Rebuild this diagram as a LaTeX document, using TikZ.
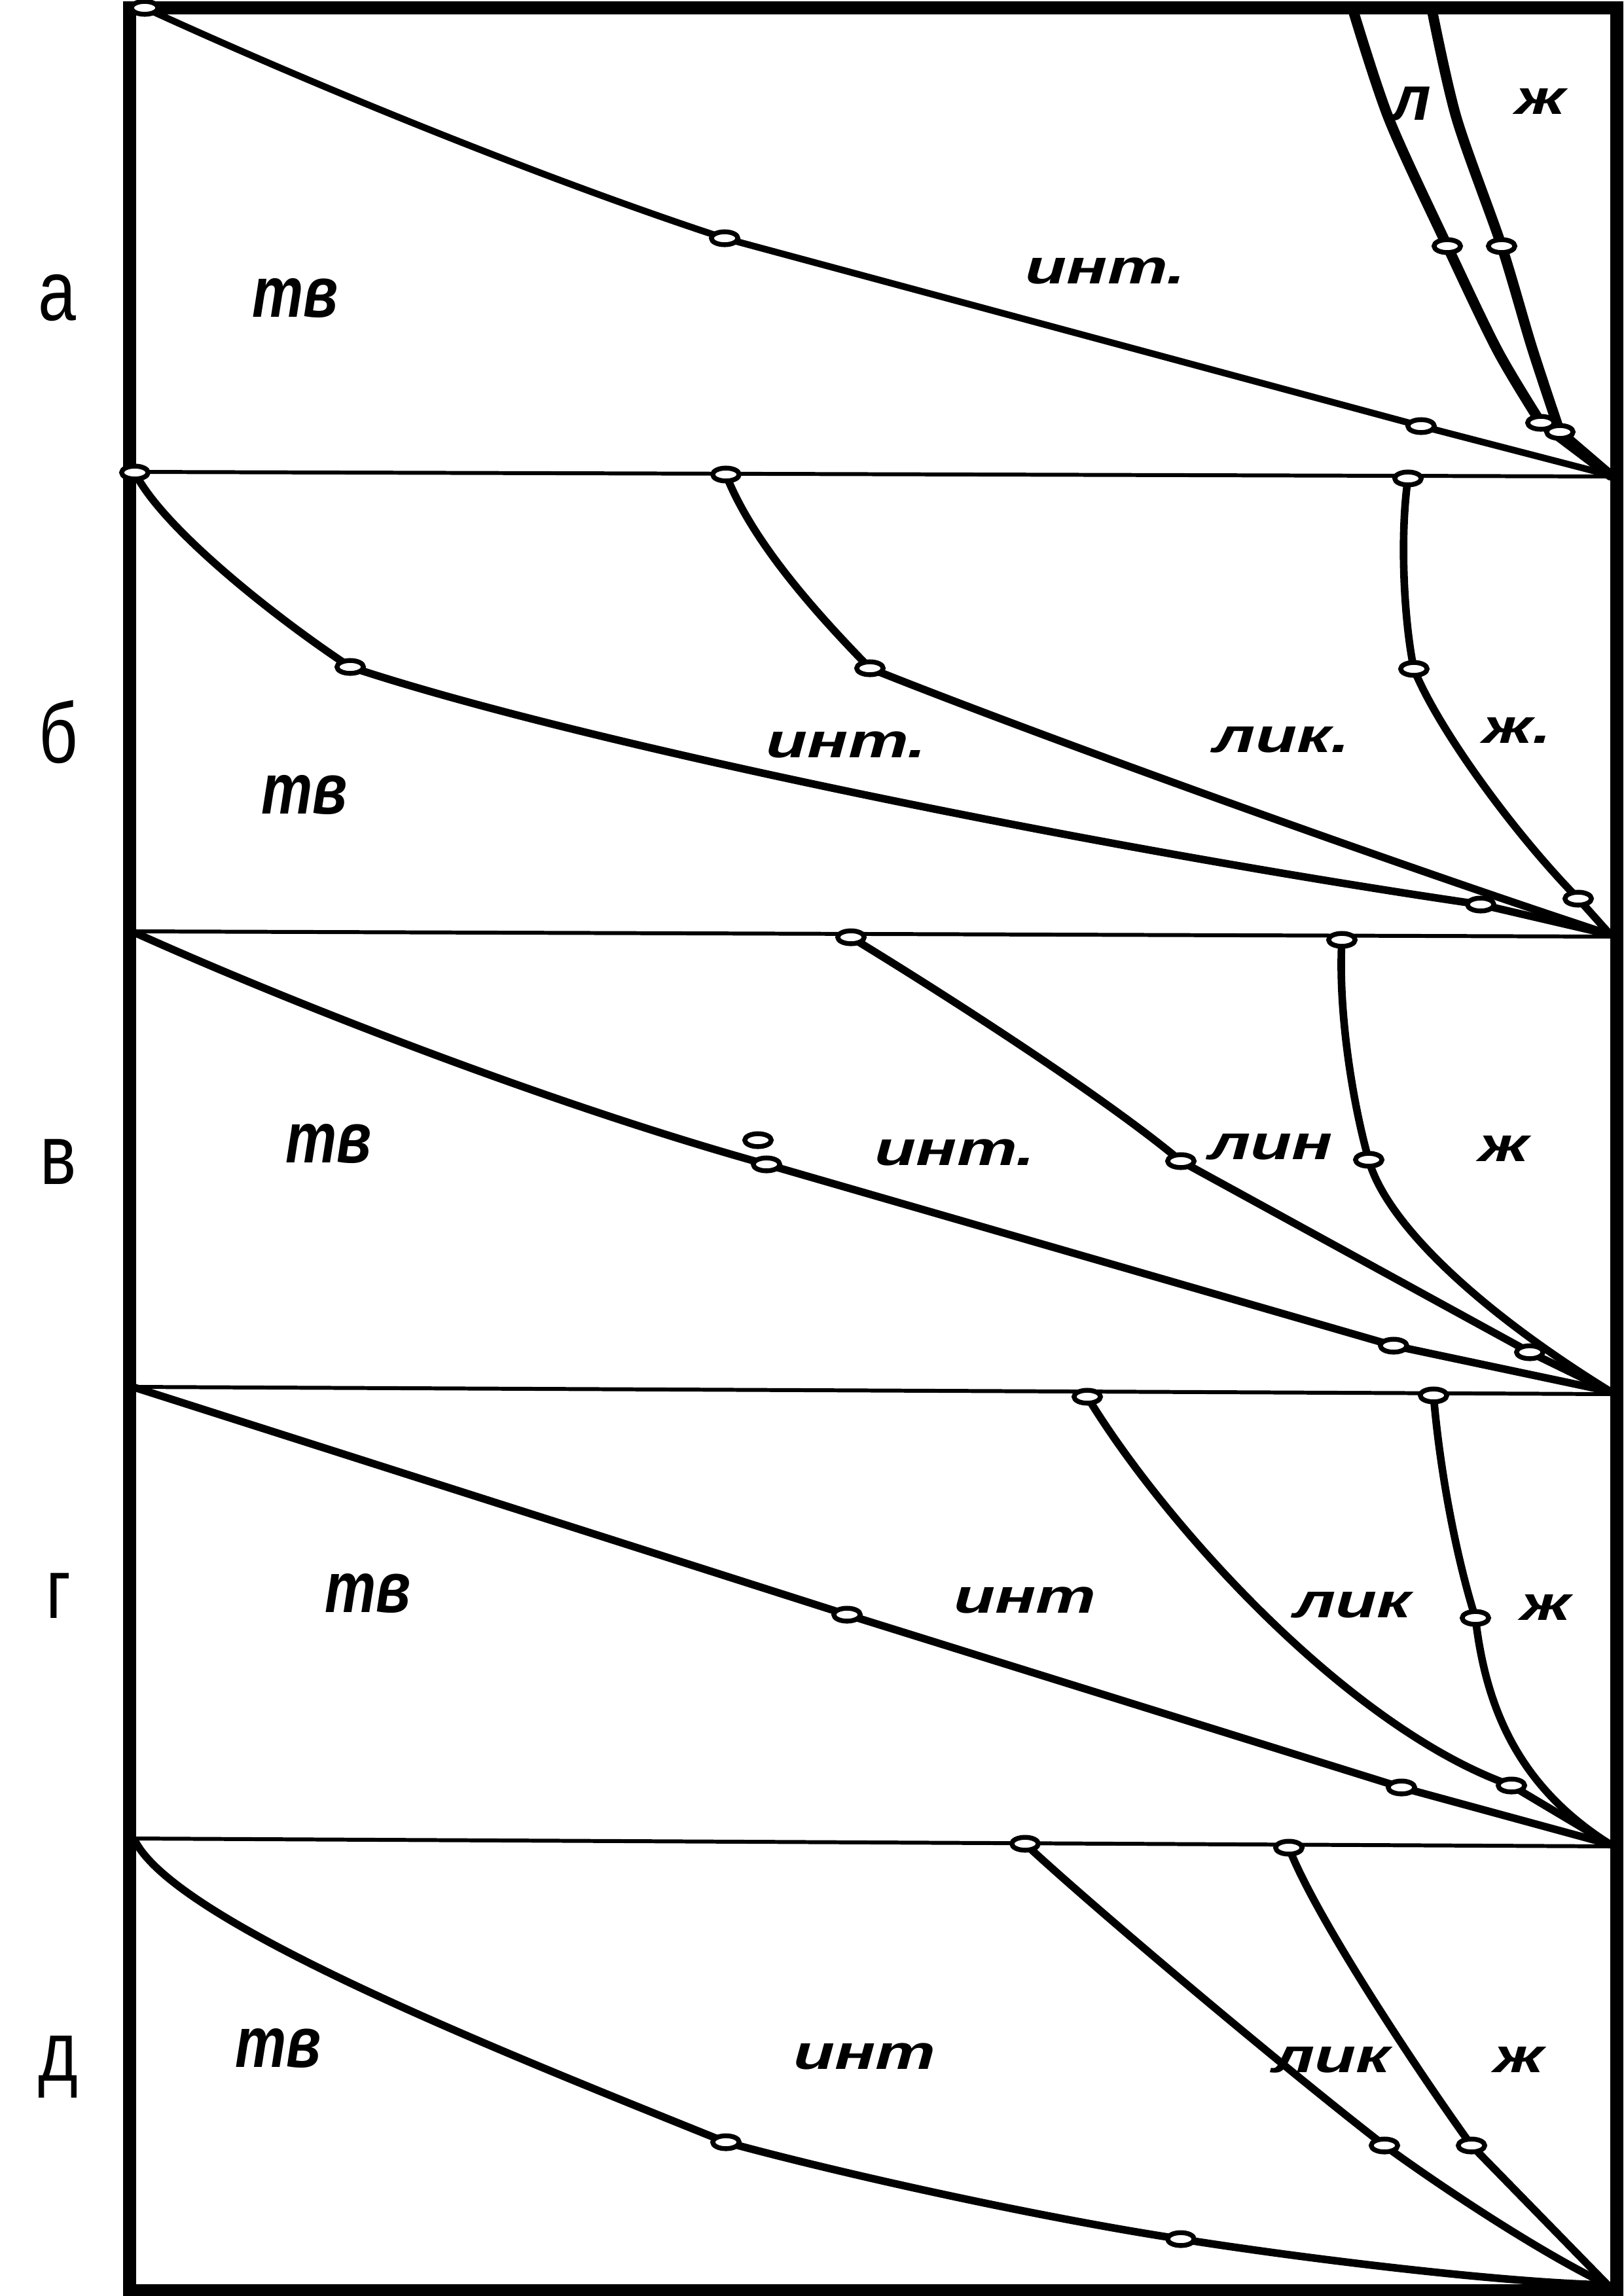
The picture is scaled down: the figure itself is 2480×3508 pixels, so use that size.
\documentclass[tikz,border=0pt]{standalone}
\usepackage{fontspec}
\usepackage{graphicx}
\setmainfont{Liberation Sans}
\newfontfamily\handfont{Liberation Sans}
\usetikzlibrary{shapes.geometric}

\newcommand{\hw}[1]{\scalebox{1.4}[1]{#1}}
\newcommand{\narrow}[1]{\scalebox{0.8}[1]{#1}}

\begin{document}
\begin{tikzpicture}[x=0.01cm,y=-0.01cm,
boxline/.style={line width=5.6pt},
divline/.style={line width=1.7pt},
phase/.style={line width=3.3pt,line join=round,line cap=round},
opendot/.style={ellipse,draw,line width=2.1pt,fill=white,inner sep=0pt,minimum width=11.5pt,minimum height=5.6pt},
tag/.style={font=\fontsize{37}{40}\selectfont,inner sep=0pt},
zone/.style={font=\handfont\bfseries\itshape\fontsize{21}{24}\selectfont,inner sep=0pt},
bigzone/.style={font=\handfont\bfseries\itshape\fontsize{25}{28}\selectfont,inner sep=0pt}
]
\useasboundingbox (0,0) rectangle (2480,3508);

\coordinate (aE) at (2460,726);
\coordinate (bE) at (2460,1428);
\coordinate (cE) at (2460,2126);
\coordinate (dE) at (2460,2818);
\coordinate (eE) at (2456,3491);

\coordinate (a0) at (221,12);   \coordinate (a1) at (1107,364); \coordinate (a2) at (2171,651);
\coordinate (a3) at (2211,376); \coordinate (a4) at (2354,646);
\coordinate (a5) at (2294,376); \coordinate (a6) at (2383,660);

\coordinate (b0) at (206,722);  \coordinate (b1) at (535,1019); \coordinate (b2) at (2262,1382);
\coordinate (b3) at (1109,725); \coordinate (b4) at (1329,1021);
\coordinate (b5) at (2151,731); \coordinate (b6) at (2160,1022); \coordinate (b7) at (2411,1373);

\coordinate (c0) at (1158,1742);
\coordinate (c1) at (1171,1779); \coordinate (c2) at (2129,2056);
\coordinate (c3) at (1300,1432); \coordinate (c4) at (1804,1774); \coordinate (c5) at (2337,2066);
\coordinate (c6) at (2050,1436); \coordinate (c7) at (2091,1772);

\coordinate (d0) at (206,2120);
\coordinate (d1) at (1294,2467); \coordinate (d2) at (2141,2731);
\coordinate (d3) at (1661,2134); \coordinate (d4) at (2309,2728);
\coordinate (d5) at (2190,2132); \coordinate (d6) at (2254,2472);

\coordinate (e0) at (206,2812);
\coordinate (e1) at (1109,3273); \coordinate (e2) at (1804,3421);
\coordinate (e3) at (1566,2817); \coordinate (e4) at (2115,3278);
\coordinate (e5) at (1969,2823); \coordinate (e6) at (2248,3278);

\foreach \yl/\yr in {721/728,1423/1431,2119/2130,2809/2821}
\draw[divline] (206,\yl) -- (2462,\yr);

% a
\draw[phase,line width=2.9pt] (a0) .. controls (500,140) and (850,280) .. (a1) -- (a2) -- (aE);
\draw[phase,line width=4.5pt] plot[smooth] coordinates {(2066,12) (2122,182) (a3) (2288,536) (a4)} -- (aE);
\draw[phase,line width=4.5pt] plot[smooth] coordinates {(2187,12) (2225,180) (a5) (2340,530) (a6)} -- (aE);

% b
\draw[phase] (b0) .. controls (250,810) and (430,950) .. (b1)
  .. controls (900,1140) and (1700,1300) .. (b2) -- (bE);
\draw[phase] (b3) .. controls (1150,830) and (1250,940) .. (b4)
  .. controls (1550,1110) and (2100,1310) .. (bE);
\draw[phase] (b5) .. controls (2138,820) and (2145,950) .. (b6)
  .. controls (2195,1110) and (2310,1270) .. (b7) -- (bE);

% c
\draw[phase] (206,1425) .. controls (450,1535) and (850,1690) .. (c1) -- (c2) -- (cE);
\draw[phase] (c3) .. controls (1420,1505) and (1680,1670) .. (c4) -- (c5) -- (cE);
\draw[phase] (c6) .. controls (2044,1540) and (2065,1680) .. (c7)
  .. controls (2115,1860) and (2240,1990) .. (cE);

% d
\draw[phase] (d0) -- (d1) -- (d2) -- (dE);
\draw[phase] (d3) .. controls (1780,2330) and (2060,2640) .. (d4) -- (dE);
\draw[phase] (d5) .. controls (2200,2250) and (2225,2380) .. (d6)
  .. controls (2270,2610) and (2320,2730) .. (dE);

% e
\draw[phase] (e0) .. controls (270,2940) and (780,3140) .. (e1)
  .. controls (1300,3325) and (1600,3390) .. (e2)
  .. controls (2000,3452) and (2300,3488) .. (eE);
\draw[phase] (e3) .. controls (1660,2905) and (1950,3150) .. (e4)
  .. controls (2200,3340) and (2350,3440) .. (eE);
\draw[phase] (e5) .. controls (2010,2930) and (2170,3170) .. (e6) -- (eE);

\draw[boxline] (198,12) rectangle (2470,3500);

\foreach \p in {a0,a1,a2,a3,a4,a5,a6,b0,b1,b2,b3,b4,b5,b6,b7,c0,c1,c2,c3,c4,c5,c6,c7,d1,d2,d3,d4,d5,d6,e1,e2,e3,e4,e5,e6}
\node[opendot] (dot-\p) at (\p) {};

\foreach \n/\x/\y/\t in {la/87/455/а,lb/89/1118/б,lc/89/1775/в,ld/89/2438/г,le/89/3158/д}
\node[tag] (\n) at (\x,\y) {\narrow{\t}};

\foreach \n/\x/\y in {tva/451/455,tvb/465/1214,tvc/502/1747,tvd/562/2434,tve/425/3129}
\node[bigzone] (\n) at (\x,\y) {\scalebox{1}[1.25]{тв}};

\foreach \n/\x/\y/\t in {inta/1689/414/инт.,intb/1293/1138/инт.,intc/1459/1761/инт.,intd/1566/2445/инт,inte/1321/3142/инт,
  likb/1958/1130/лик.,linc/1941/1752/лин,likd/2066/2452/лик,like/2034/3147/лик,
  zha/2354/155/ж,zhb/2318/1116/ж.,zhc/2298/1755/ж,zhd/2362/2456/ж,zhe/2321/3147/ж}
\node[zone] (\n) at (\x,\y) {\hw{\t}};
\node[zone] (la-l) at (2156,159) {\scalebox{1.3}{л}};
\end{tikzpicture}
\end{document}
